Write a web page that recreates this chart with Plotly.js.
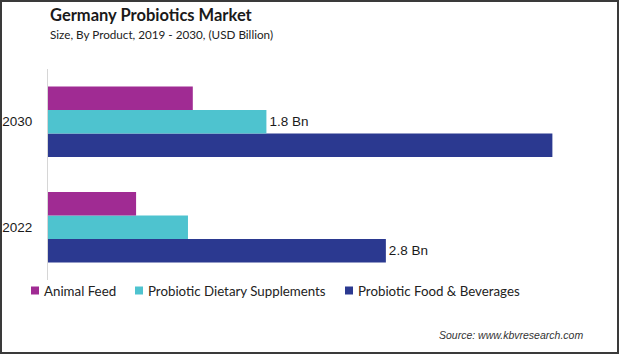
<!DOCTYPE html>
<html>
<head>
<meta charset="utf-8">
<script src="https://cdn.plot.ly/plotly-3.0.1.min.js"></script>
<style>
  html, body { margin: 0; padding: 0; background: #fff; }
  #wrap { position: relative; width: 619px; height: 354px; }
  #chart { position: absolute; left: 0; top: 0; width: 619px; height: 354px; }
  #frame { position: absolute; left: 0; top: 0; width: 619px; height: 354px;
           box-sizing: border-box; border: 2px solid #3a3a3a; pointer-events: none; }
</style>
</head>
<body>
<div id="wrap"><div id="chart"></div><div id="frame"></div></div>
<script>
// ---- data ----
var years = ['2022', '2030'];
var seriesNames = ['Animal Feed', 'Probiotic Dietary Supplements', 'Probiotic Food & Beverages'];
var animalFeed = [0.73, 1.20];
var dietarySupplements = [1.16, 1.81];
var foodBeverages = [2.80, 4.18];
var supplementsLabels = ['', '1.8 Bn'];
var foodLabels = ['2.8 Bn', ''];
var seriesColors = ['#A02B93', '#4EC3CF', '#2B3990'];

// ---- layout helpers ----
var W = 619, H = 354;
var M = {l: 48, r: 28, t: 69, b: 74};
var plotW = W - M.l - M.r, plotH = H - M.t - M.b;
function px(x) { return (x - M.l) / plotW; }
function py(y) { return 1 - (y - M.t) / plotH; }

var axisFont = '"Liberation Sans", Arial, sans-serif';
var uiFont = 'Lato, Roboto, sans-serif';

var traces = [
  {type: 'bar', orientation: 'h', name: seriesNames[2], y: years, x: foodBeverages,
   marker: {color: seriesColors[2]}, text: foodLabels, textposition: 'outside',
   textfont: {family: axisFont, size: 13.5, color: '#1a1a1a'}, cliponaxis: false, showlegend: false},
  {type: 'bar', orientation: 'h', name: seriesNames[1], y: years, x: dietarySupplements,
   marker: {color: seriesColors[1]}, text: supplementsLabels, textposition: 'outside',
   textfont: {family: axisFont, size: 13.5, color: '#1a1a1a'}, cliponaxis: false, showlegend: false},
  {type: 'bar', orientation: 'h', name: seriesNames[0], y: years, x: animalFeed,
   marker: {color: seriesColors[0]}, showlegend: false}
];

// custom legend
var legendX = [31, 135, 345];
var shapes = [], annotations = [];
seriesNames.forEach(function (n, i) {
  shapes.push({type: 'rect', xref: 'paper', yref: 'paper',
    x0: px(legendX[i]), x1: px(legendX[i] + 8), y0: py(294.5), y1: py(286.5),
    line: {width: 0}, fillcolor: seriesColors[i]});
  annotations.push({xref: 'paper', yref: 'paper', x: px(legendX[i] + 11), y: py(290.5),
    xanchor: 'left', yanchor: 'middle', showarrow: false, text: n,
    font: {family: uiFont, size: 13.3, color: '#222'}});
});

annotations.push({xref: 'paper', yref: 'paper', x: px(48), y: py(15), xanchor: 'left', yanchor: 'middle',
  showarrow: false, text: '<b>Germany Probiotics Market</b>', font: {family: uiFont, size: 16.5, color: '#1a1a1a'}});
annotations.push({xref: 'paper', yref: 'paper', x: px(48), y: py(34), xanchor: 'left', yanchor: 'middle',
  showarrow: false, text: 'Size, By Product, 2019 - 2030, (USD Billion)', font: {family: uiFont, size: 11.7, color: '#222'}});
annotations.push({xref: 'paper', yref: 'paper', x: px(585), y: py(335), xanchor: 'right', yanchor: 'middle',
  showarrow: false, text: '<i>Source: www.kbvresearch.com</i>', font: {family: axisFont, size: 10.5, color: '#333'}});

var layout = {
  width: W, height: H,
  margin: M,
  paper_bgcolor: '#fff', plot_bgcolor: '#fff',
  barmode: 'group', bargap: 0.33, bargroupgap: 0,
  showlegend: false,
  xaxis: {range: [0, 4.5], showgrid: false, zeroline: false, showticklabels: false, ticks: '', showline: false, fixedrange: true},
  yaxis: {type: 'category', categoryarray: years, range: [-0.5, 1.5], showgrid: false, zeroline: false,
    showline: true, linecolor: '#d6d6d6', linewidth: 1, ticks: 'outside', ticklen: 12, tickcolor: 'rgba(0,0,0,0)',
    tickfont: {family: axisFont, size: 13.5, color: '#1a1a1a'}, fixedrange: true},
  shapes: shapes,
  annotations: annotations
};

Plotly.newPlot('chart', traces, layout, {displayModeBar: false, staticPlot: true});
</script>
</body>
</html>
